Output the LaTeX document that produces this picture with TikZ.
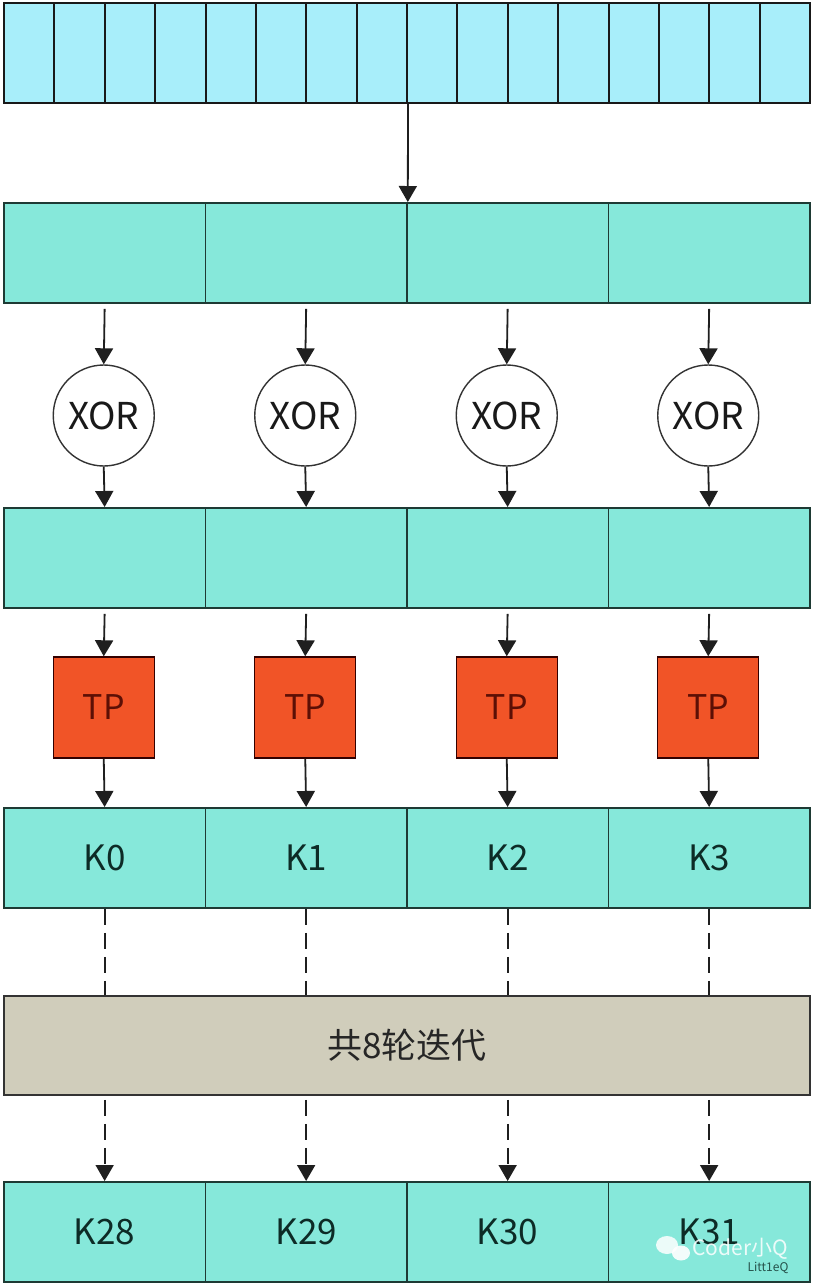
\documentclass[tikz,border=0pt]{standalone}
\usepackage{fontspec}
\setmainfont{Noto Sans CJK SC}
\usetikzlibrary{arrows.meta}
\definecolor{topc}{HTML}{A8EEFA}
\definecolor{tealc}{HTML}{86E8DA}
\definecolor{tpc}{HTML}{F15427}
\definecolor{grayc}{HTML}{D0CDBB}
\definecolor{edgec}{HTML}{1E3A34}
\definecolor{kc}{HTML}{0D2B26}
\definecolor{tptext}{HTML}{5C0F05}
\begin{document}
\begin{tikzpicture}[x=1pt,y=-1pt,
  topcell/.style={draw=black!90, line width=2pt, fill=topc, minimum width=50.375pt, minimum height=100pt, inner sep=0pt, anchor=north west},
  cell/.style={draw=edgec, line width=1.8pt, fill=tealc, minimum width=201.5pt, minimum height=100pt, inner sep=0pt, anchor=north west, font=\fontsize{35}{40}\selectfont, text=kc},
  xorc/.style={circle, draw=black!80, line width=1.4pt, fill=white, minimum size=101pt, inner sep=0pt, font=\fontsize{37}{40}\selectfont, text=black!90},
  tpbox/.style={draw=black!80!red, line width=1.4pt, fill=tpc, minimum size=101pt, inner sep=0pt, font=\fontsize{34}{40}\selectfont, text=tptext},
  graybox/.style={draw=black!80, line width=1.8pt, fill=grayc, minimum width=806pt, minimum height=99pt, inner sep=0pt, anchor=north west, font=\fontsize{35}{40}\selectfont, text=black!85},
  arr/.style={-{Triangle[width=18pt,length=16pt]}, line width=1.8pt, draw=black!88},
  dline/.style={line width=1.8pt, draw=black!88, dash pattern=on 16pt off 8pt},
  darr/.style={arr, dash pattern=on 16pt off 8pt}]
\useasboundingbox[fill=white] (0,0) rectangle (812,1286);
% top row
\foreach \i in {0,...,15}
  \node[topcell] (c\i) at ({3+\i*50.375},2) {};
% second row
\foreach \i in {1,...,4}
  \node[cell] (a\i) at ({3+(\i-1)*201.5},202) {};
% XOR circles
\foreach \i in {1,...,4}
  \node[xorc] (x\i) at ({3+(\i-0.5)*201.5},415.5) {XOR};
% third row
\foreach \i in {1,...,4}
  \node[cell] (b\i) at ({3+(\i-1)*201.5},507) {};
% TP boxes
\foreach \i in {1,...,4}
  \node[tpbox] (t\i) at ({3+(\i-0.5)*201.5},707.5) {TP};
% K row
\foreach \i/\t in {1/K0,2/K1,3/K2,4/K3}
  \node[cell] (k\i) at ({3+(\i-1)*201.5},807) {\t};
% iteration box
\node[graybox] (g) at (3,995) {共8轮迭代};
% bottom row
\foreach \i/\t in {1/K28,2/K29,3/K30,4/K31}
  \node[cell] (m\i) at ({3+(\i-1)*201.5},1181) {\t};
% connectors
\draw[arr] (c7.south east) -- (a2.north east);
\foreach \i in {1,...,4} {
  \draw[arr] ([yshift=-5pt]a\i.south) -- (x\i.north);
  \draw[arr] (x\i.south) -- (b\i.north);
  \draw[arr] ([yshift=-5pt]b\i.south) -- (t\i.north);
  \draw[arr] (t\i.south) -- (k\i.north);
  \draw[dline] (k\i.south) -- (k\i.south |- g.north);
  \draw[darr] ([yshift=-4pt]k\i.south |- g.south) -- (m\i.north);
}
% watermark
\fill[white, opacity=0.85] (667,1245) ellipse (11pt and 9pt);
\fill[white, opacity=0.9] (681,1253) ellipse (9pt and 7.5pt);
\node[text=white, opacity=0.85, inner sep=0pt, font=\fontsize{21}{21}\selectfont] (wm) at (740,1249) {Coder小Q};
\node[text=kc, opacity=0.8, inner sep=0pt, font=\fontsize{12}{12}\selectfont] (wm2) at (768,1268) {Litt1eQ};
\end{tikzpicture}
\end{document}
